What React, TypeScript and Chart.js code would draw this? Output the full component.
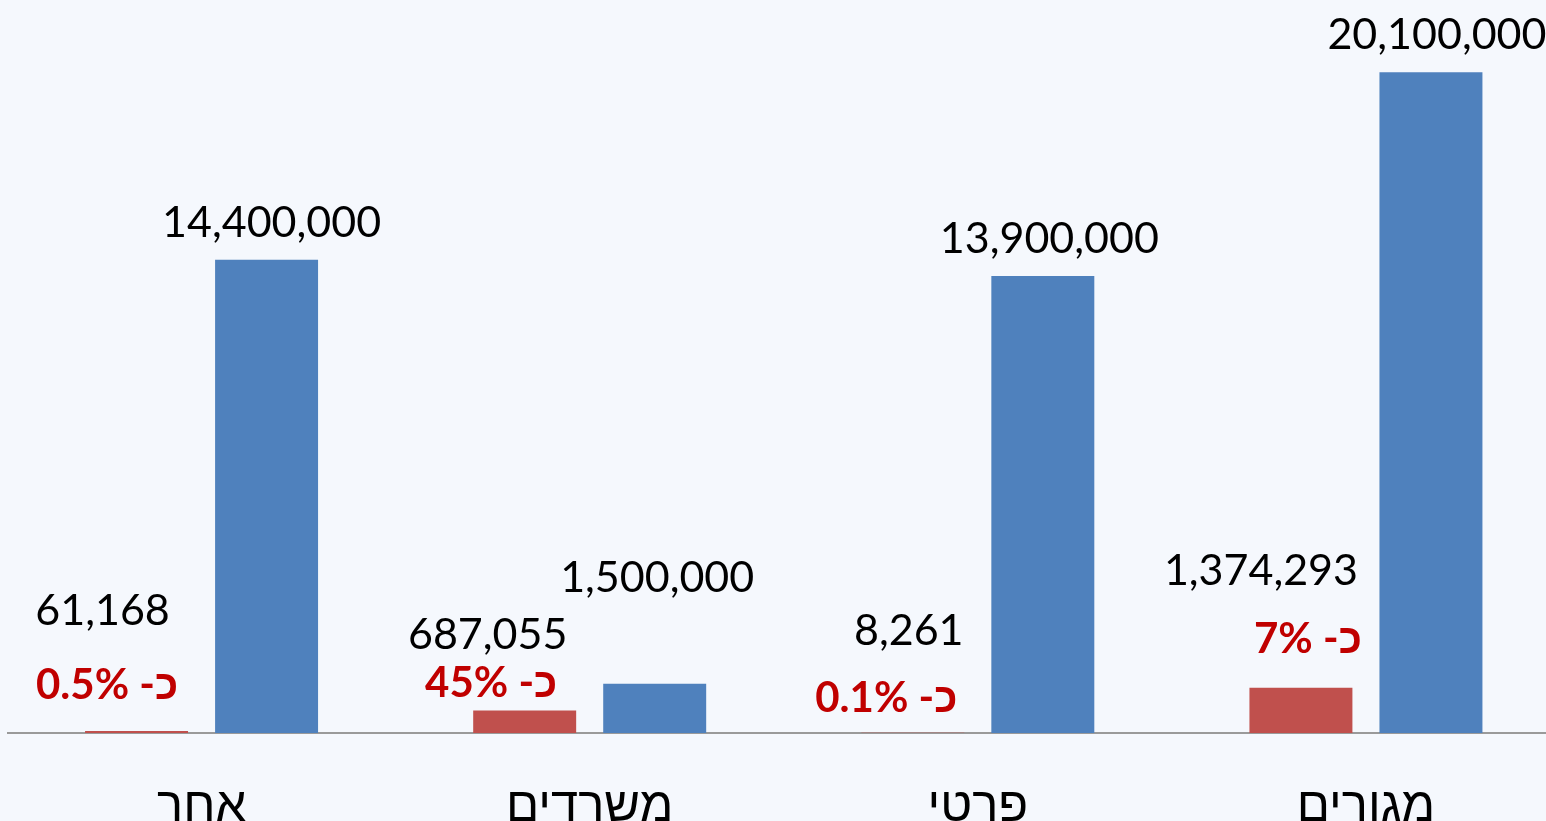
import React, { useEffect, useRef } from "react";
import { Chart, registerables } from "chart.js";

Chart.register(...registerables);

// ---- Data ----
const CATEGORIES = ["אחר", "משרדים", "פרטי", "מגורים"];
const RED_VALUES = [61168, 687055, 8261, 1374293];
const BLUE_VALUES = [14400000, 1500000, 13900000, 20100000];
const PCT_LABELS = ["כ- 0.5%", "כ- 45%", "כ- 0.1%", "כ- 7%"];
const Y_MAX = 22300000;

// ---- Layout / style (label offsets relative to bar centre / bar top, px) ----
const BLUE_LABEL_DX = [5, 2.5, 6.5, 6];
const BLUE_LABEL_DY = [23, 92, 23, 23];
const RED_NUM_DX = [-34, -37, -4, -40];
const RED_NUM_DY = [106, 61, 88, 103];
const RED_PCT_DX = [-29.5, -33.5, -26.5, 7];
const RED_PCT_DY = [32, 13, 21, 35];

const CANVAS_W = 1560;
const CANVAS_H = 900;
const PLOT_BOTTOM = 733;
const BG = "#f5f8fd";
const NUM_FONT = "43px Lato, 'Liberation Sans', sans-serif";
const PCT_FONT = "bold 42px Lato, 'Liberation Sans', sans-serif";

const labelPlugin = {
  id: "valueLabels",
  afterDatasetsDraw(chart: any) {
    const ctx = chart.ctx;
    ctx.save();
    chart.data.datasets.forEach((ds: any, di: number) => {
      const meta = chart.getDatasetMeta(di);
      meta.data.forEach((bar: any, i: number) => {
        const { x, y } = bar.getProps(["x", "y"], true);
        const v = ds.data[i] as number;
        const txt = v.toLocaleString("en-US");
        ctx.textAlign = "center";
        ctx.textBaseline = "alphabetic";
        ctx.direction = "ltr";
        ctx.fillStyle = "#000000";
        ctx.font = NUM_FONT;
        if (di === 1) {
          ctx.fillText(txt, x + BLUE_LABEL_DX[i], y - BLUE_LABEL_DY[i]);
        } else {
          ctx.fillText(txt, x + RED_NUM_DX[i], y - RED_NUM_DY[i]);
          ctx.font = PCT_FONT;
          ctx.fillStyle = "#c00000";
          ctx.direction = "rtl";
          ctx.fillText(PCT_LABELS[i], x + RED_PCT_DX[i], y - RED_PCT_DY[i]);
        }
      });
    });
    ctx.restore();
  },
};

export default function App() {
  const ref = useRef<HTMLCanvasElement | null>(null);

  useEffect(() => {
    if (!ref.current) return;
    const chart = new Chart(ref.current, {
      type: "bar",
      data: {
        labels: CATEGORIES,
        datasets: [
          {
            label: "red",
            data: RED_VALUES,
            backgroundColor: "#c0504d",
            borderWidth: 0,
          },
          {
            label: "blue",
            data: BLUE_VALUES,
            backgroundColor: "#4f81bd",
            borderWidth: 0,
          },
        ],
      },
      options: {
        animation: false,
        responsive: false,
        maintainAspectRatio: false,
        layout: { padding: { left: 7.5, right: 0, top: 0, bottom: 0 } },
        datasets: {
          bar: { categoryPercentage: 0.67, barPercentage: 0.792 },
        } as any,
        plugins: {
          legend: { display: false },
          tooltip: { enabled: false },
        },
        scales: {
          x: {
            grid: { display: false, drawTicks: false },
            border: { display: true, color: "#9a9a9a", width: 2 },
            ticks: {
              color: "#000000",
              padding: 45,
              font: { family: "'Liberation Sans', 'DejaVu Sans', sans-serif", size: 49 },
              maxRotation: 0,
              autoSkip: false,
            },
            afterFit: (scale: any) => {
              scale.height = CANVAS_H - PLOT_BOTTOM;
            },
          },
          y: {
            display: false,
            min: 0,
            max: Y_MAX,
          },
        },
      },
      plugins: [labelPlugin],
    });
    return () => chart.destroy();
  }, []);

  return (
    <div
      style={{
        position: "fixed",
        left: 0,
        top: 0,
        width: 1546,
        height: 821,
        overflow: "hidden",
        background: BG,
      }}
    >
      <canvas
        ref={ref}
        width={CANVAS_W}
        height={CANVAS_H}
        style={{ position: "absolute", left: 0, top: 0, width: CANVAS_W, height: CANVAS_H }}
      />
    </div>
  );
}
